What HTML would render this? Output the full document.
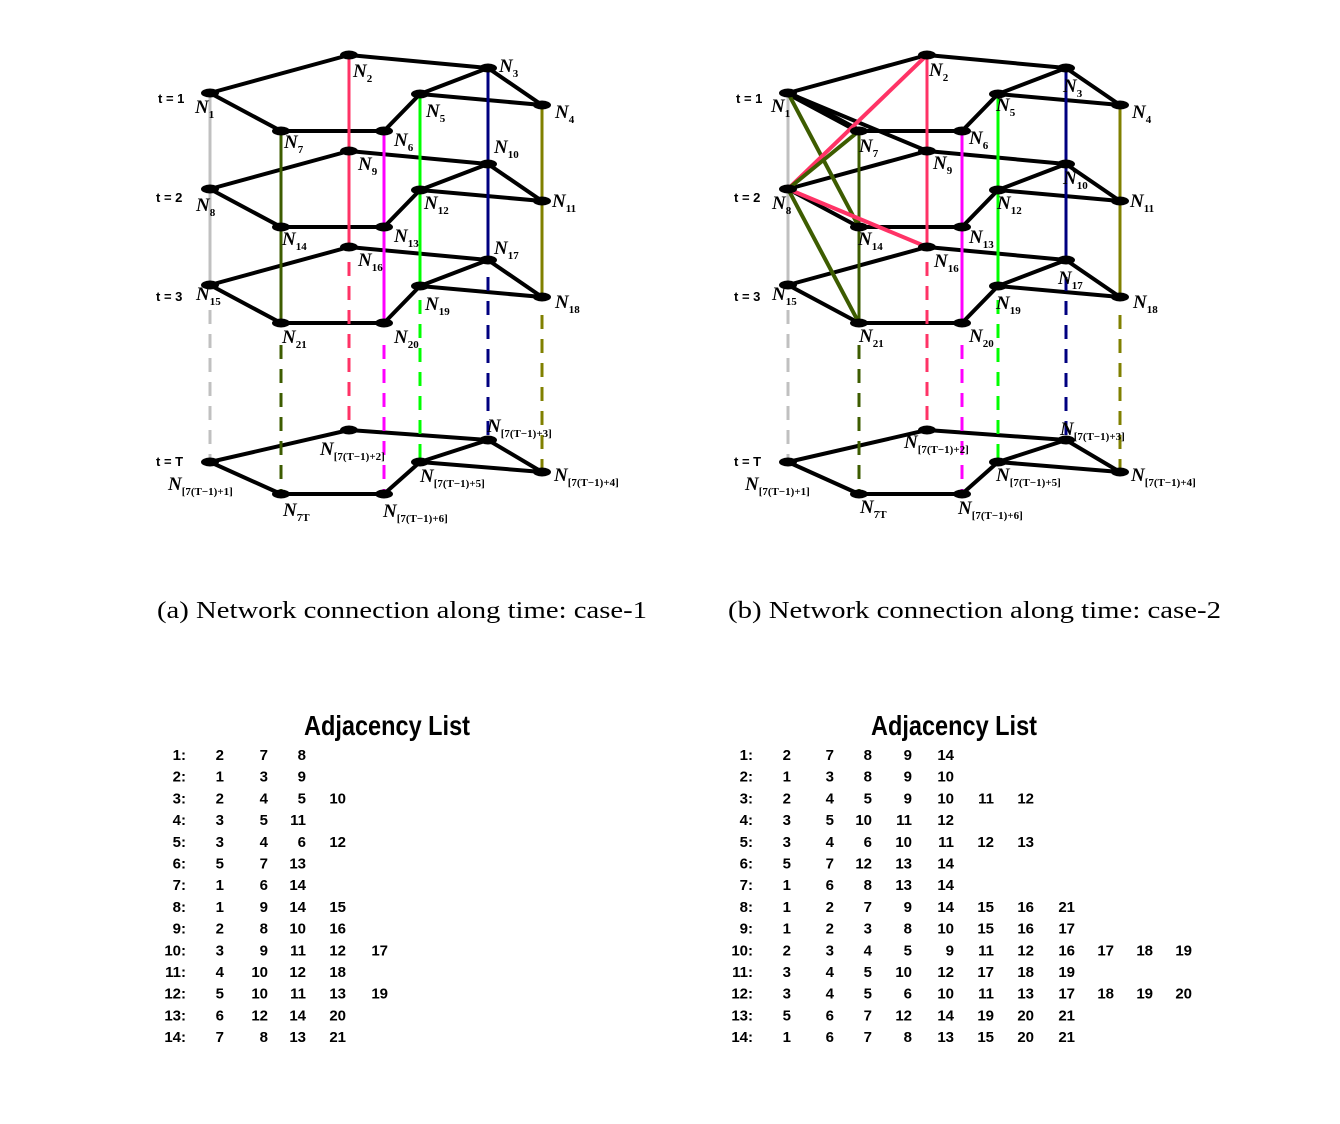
<!DOCTYPE html>
<html><head><meta charset="utf-8"><style>
body{margin:0;background:#fff}
svg{display:block}
.n{font-family:"Liberation Serif",serif;font-style:italic;font-weight:bold;font-size:19px}
.s{font-size:11px;font-style:normal}
.t{font-family:"Liberation Sans",sans-serif;font-weight:bold;font-size:13px}
.cap{font-family:"Liberation Serif",serif;font-size:24px}
.ti{font-family:"Liberation Sans Narrow","Liberation Sans",sans-serif;font-weight:bold;font-size:28px}
.tb{font-family:"Liberation Sans Narrow","Liberation Sans",sans-serif;font-weight:bold;font-size:15px;text-anchor:end}
</style></head><body>
<svg width="1340" height="1124" viewBox="0 0 1340 1124" xmlns="http://www.w3.org/2000/svg">
<defs>
<g id="net">
<g fill="none" stroke="#000" stroke-width="4" stroke-linejoin="round">
<polyline points="210,93 349,55 488,68 542,105 420,94 384,131 281,131 210,93"/>
<polyline points="210,189 349,151 488,164 542,201 420,190 384,227 281,227 210,189"/>
<polyline points="210,285 349,247 488,260 542,297 420,286 384,323 281,323 210,285"/>
<polyline points="210,462 349,430 488,440 542,472 420,462 384,494 281,494 210,462"/>
<line x1="488" y1="68" x2="420" y2="94"/><line x1="488" y1="164" x2="420" y2="190"/>
<line x1="488" y1="260" x2="420" y2="286"/><line x1="488" y1="440" x2="420" y2="462"/>
</g>
<g stroke-width="3">
<line x1="210" y1="93" x2="210" y2="285" stroke="#c0c0c0"/><line x1="210" y1="310" x2="210" y2="458" stroke="#c0c0c0" stroke-dasharray="14,10"/>
<line x1="281" y1="131" x2="281" y2="323" stroke="#3d5c00"/><line x1="281" y1="345" x2="281" y2="490" stroke="#3d5c00" stroke-dasharray="14,10"/>
<line x1="349" y1="55" x2="349" y2="247" stroke="#ff3366"/><line x1="349" y1="262" x2="349" y2="426" stroke="#ff3366" stroke-dasharray="14,10"/>
<line x1="384" y1="131" x2="384" y2="323" stroke="#ff00ff"/><line x1="384" y1="345" x2="384" y2="490" stroke="#ff00ff" stroke-dasharray="14,10"/>
<line x1="420" y1="94" x2="420" y2="286" stroke="#00ff00"/><line x1="420" y1="300" x2="420" y2="458" stroke="#00ff00" stroke-dasharray="14,10"/>
<line x1="488" y1="68" x2="488" y2="260" stroke="#000080"/><line x1="488" y1="277" x2="488" y2="436" stroke="#000080" stroke-dasharray="14,10"/>
<line x1="542" y1="105" x2="542" y2="297" stroke="#808000"/><line x1="542" y1="315" x2="542" y2="468" stroke="#808000" stroke-dasharray="14,10"/>
</g>
</g>
<g id="nodes">
<g fill="#000">
<ellipse cx="210" cy="93" rx="9" ry="4.5"/><ellipse cx="349" cy="55" rx="9" ry="4.5"/><ellipse cx="488" cy="68" rx="9" ry="4.5"/><ellipse cx="542" cy="105" rx="9" ry="4.5"/><ellipse cx="420" cy="94" rx="9" ry="4.5"/><ellipse cx="384" cy="131" rx="9" ry="4.5"/><ellipse cx="281" cy="131" rx="9" ry="4.5"/>
<ellipse cx="210" cy="189" rx="9" ry="4.5"/><ellipse cx="349" cy="151" rx="9" ry="4.5"/><ellipse cx="488" cy="164" rx="9" ry="4.5"/><ellipse cx="542" cy="201" rx="9" ry="4.5"/><ellipse cx="420" cy="190" rx="9" ry="4.5"/><ellipse cx="384" cy="227" rx="9" ry="4.5"/><ellipse cx="281" cy="227" rx="9" ry="4.5"/>
<ellipse cx="210" cy="285" rx="9" ry="4.5"/><ellipse cx="349" cy="247" rx="9" ry="4.5"/><ellipse cx="488" cy="260" rx="9" ry="4.5"/><ellipse cx="542" cy="297" rx="9" ry="4.5"/><ellipse cx="420" cy="286" rx="9" ry="4.5"/><ellipse cx="384" cy="323" rx="9" ry="4.5"/><ellipse cx="281" cy="323" rx="9" ry="4.5"/>
<ellipse cx="210" cy="462" rx="9" ry="4.5"/><ellipse cx="349" cy="430" rx="9" ry="4.5"/><ellipse cx="488" cy="440" rx="9" ry="4.5"/><ellipse cx="542" cy="472" rx="9" ry="4.5"/><ellipse cx="420" cy="462" rx="9" ry="4.5"/><ellipse cx="384" cy="494" rx="9" ry="4.5"/><ellipse cx="281" cy="494" rx="9" ry="4.5"/>
</g>
</g>
</defs>

<!-- left -->
<use href="#net"/>
<use href="#nodes"/>
<!-- right -->
<g transform="translate(578,0)">
<use href="#net"/>
<g stroke-width="4" fill="none">
<line x1="210" y1="93" x2="349" y2="151" stroke="#000"/>
<line x1="210" y1="93" x2="281" y2="131" stroke="#000" stroke-width="6"/>
<line x1="210" y1="93" x2="281" y2="227" stroke="#3d5c00"/>
<line x1="210" y1="189" x2="349" y2="55" stroke="#ff3366"/>
<line x1="210" y1="189" x2="281" y2="131" stroke="#3d5c00"/>
<line x1="210" y1="189" x2="349" y2="247" stroke="#ff3366"/>
<line x1="210" y1="189" x2="281" y2="323" stroke="#3d5c00"/>
</g>
<use href="#nodes"/>
</g>

<!-- time labels -->
<g class="t">
<text x="158" y="103">t = 1</text><text x="156" y="202">t = 2</text><text x="156" y="301">t = 3</text><text x="156" y="466">t = T</text>
<text x="736" y="103">t = 1</text><text x="734" y="202">t = 2</text><text x="734" y="301">t = 3</text><text x="734" y="466">t = T</text>
</g>

<!-- left labels -->
<g class="n">
<text x="195" y="113">N<tspan class="s" dy="5">1</tspan></text>
<text x="353" y="77">N<tspan class="s" dy="5">2</tspan></text>
<text x="499" y="72">N<tspan class="s" dy="5">3</tspan></text>
<text x="555" y="118">N<tspan class="s" dy="5">4</tspan></text>
<text x="426" y="117">N<tspan class="s" dy="5">5</tspan></text>
<text x="394" y="146">N<tspan class="s" dy="5">6</tspan></text>
<text x="284" y="148">N<tspan class="s" dy="5">7</tspan></text>
<text x="196" y="211">N<tspan class="s" dy="5">8</tspan></text>
<text x="358" y="170">N<tspan class="s" dy="5">9</tspan></text>
<text x="494" y="153">N<tspan class="s" dy="5">10</tspan></text>
<text x="552" y="207">N<tspan class="s" dy="5">11</tspan></text>
<text x="424" y="209">N<tspan class="s" dy="5">12</tspan></text>
<text x="394" y="242">N<tspan class="s" dy="5">13</tspan></text>
<text x="282" y="245">N<tspan class="s" dy="5">14</tspan></text>
<text x="196" y="300">N<tspan class="s" dy="5">15</tspan></text>
<text x="358" y="266">N<tspan class="s" dy="5">16</tspan></text>
<text x="494" y="254">N<tspan class="s" dy="5">17</tspan></text>
<text x="555" y="308">N<tspan class="s" dy="5">18</tspan></text>
<text x="425" y="310">N<tspan class="s" dy="5">19</tspan></text>
<text x="394" y="343">N<tspan class="s" dy="5">20</tspan></text>
<text x="282" y="343">N<tspan class="s" dy="5">21</tspan></text>
<text x="168" y="490">N<tspan class="s" dy="5">[7(T−1)+1]</tspan></text>
<text x="320" y="455">N<tspan class="s" dy="5">[7(T−1)+2]</tspan></text>
<text x="487" y="432">N<tspan class="s" dy="5">[7(T−1)+3]</tspan></text>
<text x="554" y="481">N<tspan class="s" dy="5">[7(T−1)+4]</tspan></text>
<text x="420" y="482">N<tspan class="s" dy="5">[7(T−1)+5]</tspan></text>
<text x="383" y="517">N<tspan class="s" dy="5">[7(T−1)+6]</tspan></text>
<text x="283" y="516">N<tspan class="s" dy="5">7T</tspan></text>
</g>

<!-- right labels -->
<g class="n">
<text x="771" y="112">N<tspan class="s" dy="5">1</tspan></text>
<text x="929" y="76">N<tspan class="s" dy="5">2</tspan></text>
<text x="1063" y="92">N<tspan class="s" dy="5">3</tspan></text>
<text x="1132" y="118">N<tspan class="s" dy="5">4</tspan></text>
<text x="996" y="111">N<tspan class="s" dy="5">5</tspan></text>
<text x="969" y="144">N<tspan class="s" dy="5">6</tspan></text>
<text x="859" y="152">N<tspan class="s" dy="5">7</tspan></text>
<text x="772" y="209">N<tspan class="s" dy="5">8</tspan></text>
<text x="933" y="169">N<tspan class="s" dy="5">9</tspan></text>
<text x="1063" y="184">N<tspan class="s" dy="5">10</tspan></text>
<text x="1130" y="207">N<tspan class="s" dy="5">11</tspan></text>
<text x="997" y="209">N<tspan class="s" dy="5">12</tspan></text>
<text x="969" y="243">N<tspan class="s" dy="5">13</tspan></text>
<text x="858" y="245">N<tspan class="s" dy="5">14</tspan></text>
<text x="772" y="300">N<tspan class="s" dy="5">15</tspan></text>
<text x="934" y="267">N<tspan class="s" dy="5">16</tspan></text>
<text x="1058" y="284">N<tspan class="s" dy="5">17</tspan></text>
<text x="1133" y="308">N<tspan class="s" dy="5">18</tspan></text>
<text x="996" y="309">N<tspan class="s" dy="5">19</tspan></text>
<text x="969" y="342">N<tspan class="s" dy="5">20</tspan></text>
<text x="859" y="342">N<tspan class="s" dy="5">21</tspan></text>
<text x="745" y="490">N<tspan class="s" dy="5">[7(T−1)+1]</tspan></text>
<text x="904" y="448">N<tspan class="s" dy="5">[7(T−1)+2]</tspan></text>
<text x="1060" y="435">N<tspan class="s" dy="5">[7(T−1)+3]</tspan></text>
<text x="1131" y="481">N<tspan class="s" dy="5">[7(T−1)+4]</tspan></text>
<text x="996" y="481">N<tspan class="s" dy="5">[7(T−1)+5]</tspan></text>
<text x="958" y="514">N<tspan class="s" dy="5">[7(T−1)+6]</tspan></text>
<text x="860" y="513">N<tspan class="s" dy="5">7T</tspan></text>
</g>

<text class="cap" x="157" y="618" textLength="490" lengthAdjust="spacingAndGlyphs">(a) Network connection along time: case-1</text>
<text class="cap" x="728" y="618" textLength="493" lengthAdjust="spacingAndGlyphs">(b) Network connection along time: case-2</text>

<text class="ti" x="304" y="735" textLength="166" lengthAdjust="spacingAndGlyphs">Adjacency List</text>
<text class="ti" x="871" y="735" textLength="166" lengthAdjust="spacingAndGlyphs">Adjacency List</text>

<g class="tb">
<text y="760"><tspan x="186">1:</tspan><tspan x="224">2</tspan><tspan x="268">7</tspan><tspan x="306">8</tspan></text>
<text y="781.7"><tspan x="186">2:</tspan><tspan x="224">1</tspan><tspan x="268">3</tspan><tspan x="306">9</tspan></text>
<text y="803.4"><tspan x="186">3:</tspan><tspan x="224">2</tspan><tspan x="268">4</tspan><tspan x="306">5</tspan><tspan x="346">10</tspan></text>
<text y="825.1"><tspan x="186">4:</tspan><tspan x="224">3</tspan><tspan x="268">5</tspan><tspan x="306">11</tspan></text>
<text y="846.8"><tspan x="186">5:</tspan><tspan x="224">3</tspan><tspan x="268">4</tspan><tspan x="306">6</tspan><tspan x="346">12</tspan></text>
<text y="868.5"><tspan x="186">6:</tspan><tspan x="224">5</tspan><tspan x="268">7</tspan><tspan x="306">13</tspan></text>
<text y="890.2"><tspan x="186">7:</tspan><tspan x="224">1</tspan><tspan x="268">6</tspan><tspan x="306">14</tspan></text>
<text y="911.9"><tspan x="186">8:</tspan><tspan x="224">1</tspan><tspan x="268">9</tspan><tspan x="306">14</tspan><tspan x="346">15</tspan></text>
<text y="933.6"><tspan x="186">9:</tspan><tspan x="224">2</tspan><tspan x="268">8</tspan><tspan x="306">10</tspan><tspan x="346">16</tspan></text>
<text y="955.3"><tspan x="186">10:</tspan><tspan x="224">3</tspan><tspan x="268">9</tspan><tspan x="306">11</tspan><tspan x="346">12</tspan><tspan x="388">17</tspan></text>
<text y="977"><tspan x="186">11:</tspan><tspan x="224">4</tspan><tspan x="268">10</tspan><tspan x="306">12</tspan><tspan x="346">18</tspan></text>
<text y="998.7"><tspan x="186">12:</tspan><tspan x="224">5</tspan><tspan x="268">10</tspan><tspan x="306">11</tspan><tspan x="346">13</tspan><tspan x="388">19</tspan></text>
<text y="1020.4"><tspan x="186">13:</tspan><tspan x="224">6</tspan><tspan x="268">12</tspan><tspan x="306">14</tspan><tspan x="346">20</tspan></text>
<text y="1042.1"><tspan x="186">14:</tspan><tspan x="224">7</tspan><tspan x="268">8</tspan><tspan x="306">13</tspan><tspan x="346">21</tspan></text>

<text y="760"><tspan x="753">1:</tspan><tspan x="791">2</tspan><tspan x="834">7</tspan><tspan x="872">8</tspan><tspan x="912">9</tspan><tspan x="954">14</tspan></text>
<text y="781.7"><tspan x="753">2:</tspan><tspan x="791">1</tspan><tspan x="834">3</tspan><tspan x="872">8</tspan><tspan x="912">9</tspan><tspan x="954">10</tspan></text>
<text y="803.4"><tspan x="753">3:</tspan><tspan x="791">2</tspan><tspan x="834">4</tspan><tspan x="872">5</tspan><tspan x="912">9</tspan><tspan x="954">10</tspan><tspan x="994">11</tspan><tspan x="1034">12</tspan></text>
<text y="825.1"><tspan x="753">4:</tspan><tspan x="791">3</tspan><tspan x="834">5</tspan><tspan x="872">10</tspan><tspan x="912">11</tspan><tspan x="954">12</tspan></text>
<text y="846.8"><tspan x="753">5:</tspan><tspan x="791">3</tspan><tspan x="834">4</tspan><tspan x="872">6</tspan><tspan x="912">10</tspan><tspan x="954">11</tspan><tspan x="994">12</tspan><tspan x="1034">13</tspan></text>
<text y="868.5"><tspan x="753">6:</tspan><tspan x="791">5</tspan><tspan x="834">7</tspan><tspan x="872">12</tspan><tspan x="912">13</tspan><tspan x="954">14</tspan></text>
<text y="890.2"><tspan x="753">7:</tspan><tspan x="791">1</tspan><tspan x="834">6</tspan><tspan x="872">8</tspan><tspan x="912">13</tspan><tspan x="954">14</tspan></text>
<text y="911.9"><tspan x="753">8:</tspan><tspan x="791">1</tspan><tspan x="834">2</tspan><tspan x="872">7</tspan><tspan x="912">9</tspan><tspan x="954">14</tspan><tspan x="994">15</tspan><tspan x="1034">16</tspan><tspan x="1075">21</tspan></text>
<text y="933.6"><tspan x="753">9:</tspan><tspan x="791">1</tspan><tspan x="834">2</tspan><tspan x="872">3</tspan><tspan x="912">8</tspan><tspan x="954">10</tspan><tspan x="994">15</tspan><tspan x="1034">16</tspan><tspan x="1075">17</tspan></text>
<text y="955.3"><tspan x="753">10:</tspan><tspan x="791">2</tspan><tspan x="834">3</tspan><tspan x="872">4</tspan><tspan x="912">5</tspan><tspan x="954">9</tspan><tspan x="994">11</tspan><tspan x="1034">12</tspan><tspan x="1075">16</tspan><tspan x="1114">17</tspan><tspan x="1153">18</tspan><tspan x="1192">19</tspan></text>
<text y="977"><tspan x="753">11:</tspan><tspan x="791">3</tspan><tspan x="834">4</tspan><tspan x="872">5</tspan><tspan x="912">10</tspan><tspan x="954">12</tspan><tspan x="994">17</tspan><tspan x="1034">18</tspan><tspan x="1075">19</tspan></text>
<text y="998.7"><tspan x="753">12:</tspan><tspan x="791">3</tspan><tspan x="834">4</tspan><tspan x="872">5</tspan><tspan x="912">6</tspan><tspan x="954">10</tspan><tspan x="994">11</tspan><tspan x="1034">13</tspan><tspan x="1075">17</tspan><tspan x="1114">18</tspan><tspan x="1153">19</tspan><tspan x="1192">20</tspan></text>
<text y="1020.4"><tspan x="753">13:</tspan><tspan x="791">5</tspan><tspan x="834">6</tspan><tspan x="872">7</tspan><tspan x="912">12</tspan><tspan x="954">14</tspan><tspan x="994">19</tspan><tspan x="1034">20</tspan><tspan x="1075">21</tspan></text>
<text y="1042.1"><tspan x="753">14:</tspan><tspan x="791">1</tspan><tspan x="834">6</tspan><tspan x="872">7</tspan><tspan x="912">8</tspan><tspan x="954">13</tspan><tspan x="994">15</tspan><tspan x="1034">20</tspan><tspan x="1075">21</tspan></text>
</g>
</svg>
</body></html>
